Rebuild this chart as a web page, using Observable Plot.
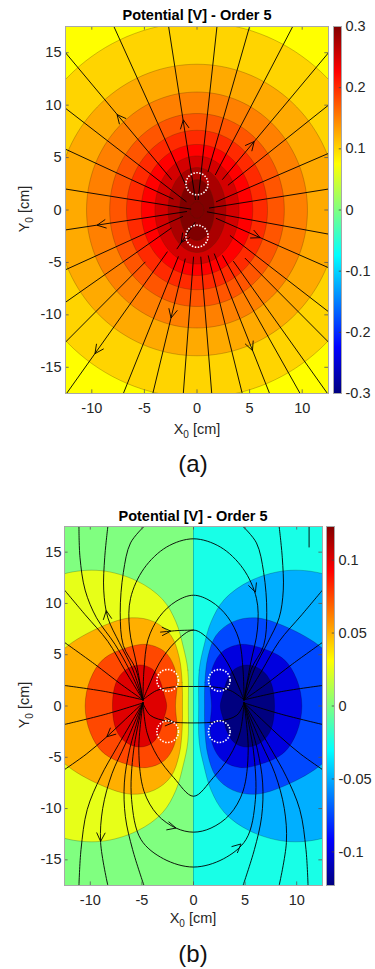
<!DOCTYPE html>
<html><head><meta charset="utf-8">
<script src="https://cdn.jsdelivr.net/npm/d3@7"></script>
<script src="https://cdn.jsdelivr.net/npm/@observablehq/plot@0.6"></script>
<style>
html,body{margin:0;padding:0;background:#fff;}
#root{position:relative;width:375px;height:969px;overflow:hidden;font-family:"Liberation Sans",Arial,sans-serif;}
#root svg{position:absolute;}
</style></head><body><div id="root"></div>
<script>
// ---------------- shared axes ----------------
const xDomain = [-12.5, 12.5];
const yDomain = [-17.5, 17.5];
const xTicks = [-10, -5, 0, 5, 10];
const yTicks = [-15, -10, -5, 0, 5, 10, 15];
const titleText = "Potential [V] - Order 5";

// ---------------- panel (a) data ----------------
const aColorDomain = [-0.3, 0.3];
const aColorTicks = [0.3, 0.2, 0.1, 0, -0.1, -0.2, -0.3];
const aBackground = 0.075;
const aLevels  = [0.1, 0.125, 0.15, 0.175, 0.2, 0.225, 0.25, 0.275, 0.3, 0.325];
const aRadiusX = [17.4, 13.4, 10.5, 8.3, 6.7, 5.3, 4.0, 2.75, 1.65, 0.65];
const aRadiusY = [17.9, 13.9, 11.25, 9.2, 7.6, 6.25, 5.15, 4.05, 2.9, 0.8];
const aElectrodes = [[0, 2.5], [0, -2.5]];
const aElectrodeRadius = 1.05;
const aLines = [
  [[1.18,0.19],[12.5,2.0]], [[1.84,0.79],[12.5,5.4]], [[2.97,2.38],[12.5,10.0]], [[2.43,2.92],[12.5,15.0]],
  [[1.75,3.37],[9.1,17.5]], [[1.05,3.65],[5.0,17.5]], [[0.11,0.99],[1.9,17.5]], [[-0.15,0.99],[-2.7,17.5]],
  [[-1.03,2.28],[-7.9,17.5]], [[-2.43,2.92],[-12.5,15.0]], [[-1.03,0.80],[-12.5,9.7]], [[-2.27,1.05],[-12.5,5.8]],
  [[-0.59,0.09],[-12.5,2.0]], [[-0.99,-0.15],[-12.5,-1.9]], [[-1.37,-0.62],[-12.5,-5.7]], [[-2.45,-1.73],[-12.5,-8.8]],
  [[-4.93,-4.97],[-12.5,-12.6]], [[-2.83,-4.0],[-12.4,-17.5]], [[-1.78,-4.46],[-7.0,-17.5]], [[-1.12,-4.67],[-4.2,-17.5]],
  [[-0.33,-4.49],[-1.3,-17.5]], [[0.36,-4.49],[1.4,-17.5]], [[1.07,-4.37],[4.3,-17.5]], [[1.65,-4.19],[6.9,-17.5]],
  [[2.44,-4.36],[9.8,-17.5]], [[3.47,-4.9],[12.4,-17.5]], [[4.58,-4.61],[12.5,-12.6]], [[3.16,-2.45],[12.5,-9.7]],
  [[1.83,-0.80],[12.5,-5.5]], [[0.98,-0.18],[12.5,-2.3]], [[-0.2,-1.2],[-1.9,-3.7]]
];
// arrow: [x, y, direction in degrees]
const aArrows = [[-7.6,9.1,130],[-1.3,8.6,99],[5.44,6.53,50],[-9.5,-1.45,189],[6.0,-2.64,336],
  [-2.47,-10.3,256.5],[-9.7,-13.7,235],[5.27,-13.4,291.5],[-1.5,-3.1,236]];

// ---------------- panel (b) data ----------------
const bColorDomain = [-0.123, 0.123];
const bColorTicks = [0.1, 0.05, 0, -0.05, -0.1];
const bBackgrounds = [{x1: -12.5, x2: 0, v: 0}, {x1: 0, x2: 12.5, v: -0.025}];
const bLevels = [0.025, 0.05, 0.075, 0.1];
const bPosFill = [0.025, 0.05, 0.075, 0.1];
const bNegFill = [-0.05, -0.075, -0.1, -0.125];
// upper-left quadrant outline of each positive contour (mirrored for the rest)
const bContourQuadrant = [
  [[-0.5,0],[-0.55,3.5],[-1.0,5.8],[-1.7,8.2],[-3.0,10.4],[-5.5,12.2],[-9.0,13.2],[-12.5,12.9],[-15.5,11.5],[-18,7],[-19,0]],
  [[-1.07,0],[-1.1,2.3],[-1.4,4.8],[-2.2,6.9],[-3.8,8.2],[-6.0,8.6],[-9.0,7.7],[-12.5,5.6],[-14,3.5],[-14.5,0]],
  [[-1.75,0],[-1.6,2.2],[-1.9,3.9],[-2.8,5.3],[-4.5,6.0],[-6.4,5.7],[-8.7,4.6],[-10.0,2.6],[-10.5,0]],
  [[-2.6,0],[-2.9,1.3],[-3.3,2.6],[-4.0,3.6],[-5.2,4.0],[-6.6,3.5],[-7.5,2.3],[-7.85,0]]
];
const bElectrodes = [[-2.5,2.5],[-2.5,-2.5],[2.5,2.5],[2.5,-2.5]];
const bElectrodeRadius = 1.05;
const bExitLinesLeft = [
  [[-4.9,0.6],[-8.5,1.4],[-12.5,2.0]],
  [[-4.9,0.6],[-7.0,2.1],[-9.6,4.1],[-12.5,6.2]],
  [[-4.9,0.6],[-6.6,3.4],[-8.3,6.3],[-10.5,8.9],[-12.5,11.3]],
  [[-4.9,0.6],[-6.2,3.5],[-7.6,6.0],[-9.4,8.6],[-10.5,11.3],[-11.0,14.5],[-11.1,17.5]],
  [[-4.9,0.6],[-5.9,3.6],[-7.2,6.2],[-8.3,8.6],[-8.7,11.3],[-8.6,14.5],[-8.3,17.5]],
  [[-4.9,0.6],[-5.6,3.6],[-6.8,5.9],[-7.1,9.1],[-6.8,13.0],[-6.1,15.9],[-4.8,17.5]],
  [[-4.9,0.3],[-8.5,-0.8],[-12.5,-1.8]],
  [[-4.9,0.3],[-6.6,-1.3],[-8.4,-3.0],[-10.4,-4.7],[-12.5,-6.2]],
  [[-4.9,0.3],[-7.4,-4.0],[-9.0,-6.9],[-10.3,-10.1],[-10.9,-14.0],[-11.1,-17.5]],
  [[-4.9,0.3],[-6.6,-3.7],[-7.9,-6.6],[-8.8,-10.0],[-9.0,-13.3],[-8.3,-17.5]],
  [[-4.9,0.3],[-6.2,-4.3],[-6.7,-7.5],[-6.6,-10.8],[-5.9,-14.0],[-4.8,-17.5]]
];
const bExitMirrored = [true, true, true, false, true, true, true, true, true, true, true];
const bArcsLeftHalf = [
  [[-4.9,0.6],[-5.5,4.0],[-6.2,7.5],[-6.1,10.5],[-4.8,13.4],[-2.6,15.5],[0,16.3]],
  [[-4.9,0.6],[-4.8,3.5],[-4.4,6.5],[-3.3,8.7],[-1.7,10.2],[0,10.8]],
  [[-4.9,0.6],[-4.4,1.8],[-3.3,4.2],[-1.8,6.2],[0,7.4]],
  [[-4.9,0.6],[-3.6,1.5],[-2.0,1.85],[0,1.9]],
  [[-4.9,0.3],[-4.2,-0.9],[-2.4,-1.5],[0,-1.65]],
  [[-4.9,0.3],[-4.5,-2.6],[-3.5,-4.9],[-1.9,-7.0],[0,-8.8]],
  [[-4.9,0.3],[-5.3,-4.3],[-4.8,-8.3],[-3.5,-10.6],[-1.7,-11.9],[0,-12.3]],
  [[-4.9,0.3],[-5.8,-4.3],[-6.0,-9.1],[-5.1,-13.0],[-2.9,-14.9],[0,-15.7]]
];
const bExtraLines = [
  [[-3.2,7.2],[-1.6,7.35],[0,7.4]],
  [[11.2,17.5],[11.2,15.5]]
];
const bArrows = [[-8.45,9.3,98],[6.0,11.1,-70],[-2.2,7.3,2],[-8.4,-3.0,222],[-9.0,-13.2,268],
  [-1.7,-11.9,-15],[4.6,-13.45,42],[-1.9,-1.58,-3]];

// ---------------- helpers ----------------
const jetStops = [[0,[0,0,0.5]],[0.125,[0,0,1]],[0.375,[0,1,1]],[0.625,[1,1,0]],[0.875,[1,0,0]],[1,[0.5,0,0]]];
function jet(t) {
  t = Math.max(0, Math.min(1, t));
  for (let i = 1; i < jetStops.length; i++) {
    const [t1, c1] = jetStops[i];
    if (t <= t1) {
      const [t0, c0] = jetStops[i - 1];
      const u = (t - t0) / (t1 - t0);
      const c = c0.map((v, k) => Math.round(255 * (v + (c1[k] - v) * u)));
      return `rgb(${c[0]},${c[1]},${c[2]})`;
    }
  }
  return "rgb(128,0,0)";
}
function ellipsePoints(rx, ry) {
  const pts = [];
  for (let i = 0; i < 144; i++) { const a = 2 * Math.PI * i / 144; pts.push([rx * Math.cos(a), ry * Math.sin(a)]); }
  return pts;
}
function arrowArms(arrows, L, phi) {
  const out = [];
  arrows.forEach(([x, y, a]) => {
    for (const s of [-1, 1]) {
      const t = (a + s * phi) * Math.PI / 180;
      out.push({x1: x, y1: y, x2: x - L * Math.cos(t), y2: y - L * Math.sin(t)});
    }
  });
  return out;
}
function tickMarks(len) {
  return [
    Plot.ruleX(xTicks, {x: d => d, y1: () => yDomain[0], y2: () => yDomain[0] + len, stroke: "#555", strokeWidth: 0.8}),
    Plot.ruleX(xTicks, {x: d => d, y1: () => yDomain[1], y2: () => yDomain[1] - len, stroke: "#555", strokeWidth: 0.8}),
    Plot.ruleY(yTicks, {y: d => d, x1: () => xDomain[0], x2: () => xDomain[0] + len, stroke: "#555", strokeWidth: 0.8}),
    Plot.ruleY(yTicks, {y: d => d, x1: () => xDomain[1], x2: () => xDomain[1] - len, stroke: "#555", strokeWidth: 0.8})
  ];
}
const baseStyle = {fontFamily: '"Liberation Sans", Arial, sans-serif', fontSize: "14.5px", color: "#262626", background: "transparent", overflow: "visible"};
const root = document.getElementById("root");

function place(svg, left, top) { svg.style.left = left + "px"; svg.style.top = top + "px"; root.appendChild(svg); }

function addLabels(svg, o) {
  const s = d3.select(svg);
  s.append("text").attr("x", o.titleX).attr("y", o.titleY).attr("text-anchor", "middle")
    .attr("font-weight", "bold").attr("font-size", "14.5px").attr("fill", "#000").text(titleText);
  const xl = s.append("text").attr("x", o.xLabX).attr("y", o.xLabY).attr("text-anchor", "middle")
    .attr("font-size", "14.5px").attr("fill", "#262626");
  xl.append("tspan").text("X");
  xl.append("tspan").attr("font-size", "10px").attr("dy", 4).text("0");
  xl.append("tspan").attr("dy", -4).text("\u00a0[cm]");
  const yl = s.append("text").attr("transform", `translate(${o.yLabX},${o.yLabY}) rotate(-90)`)
    .attr("text-anchor", "middle").attr("font-size", "14.5px").attr("fill", "#262626");
  yl.append("tspan").text("Y");
  yl.append("tspan").attr("font-size", "10px").attr("dy", 4).text("0");
  yl.append("tspan").attr("dy", -4).text("\u00a0[cm]");
  s.append("text").attr("x", o.tagX).attr("y", o.tagY).attr("text-anchor", "middle")
    .attr("font-size", "24px").attr("fill", "#111").text(o.tag);
}

function colorbar(id, domain, ticks, height, mt, mb) {
  const svg = Plot.plot({
    width: 48, height, marginTop: mt, marginBottom: mb, marginLeft: 0, marginRight: 40,
    style: baseStyle,
    x: {domain: [0, 1], axis: null},
    y: {domain, ticks, axis: "right", tickSize: 0, tickPadding: 4, tickFormat: d => String(d), label: null},
    marks: [
      Plot.rect([0], {x1: () => 0, x2: () => 1, y1: () => domain[0], y2: () => domain[1], fill: `url(#${id})`}),
      Plot.ruleY(ticks, {y: d => d, x1: () => 0.72, x2: () => 1, stroke: "#444", strokeWidth: 0.8}),
      Plot.frame({stroke: "#a8a8a8"})
    ]
  });
  const g = d3.select(svg).insert("defs", ":first-child").append("linearGradient")
    .attr("id", id).attr("x1", 0).attr("y1", 1).attr("x2", 0).attr("y2", 0);
  jetStops.forEach(([t, c]) => g.append("stop").attr("offset", t)
    .attr("stop-color", `rgb(${c.map(v => Math.round(v * 255)).join(",")})`));
  return svg;
}

// ---------------- panel (a) ----------------
{
  const H = 485, mt = 26, mb = 92, ml = 65, mr = 47;
  const rings = aLevels.flatMap((lv, i) => ellipsePoints(aRadiusX[i], aRadiusY[i]).map(([x, y]) => ({id: i, v: lv, x, y})));
  const lines = aLines.flatMap((pts, id) => pts.map(([x, y]) => ({id, x, y})));
  const svg = Plot.plot({
    width: 375, height: H, marginTop: mt, marginBottom: mb, marginLeft: ml, marginRight: mr,
    style: baseStyle,
    x: {domain: xDomain, ticks: xTicks, tickSize: 0, tickPadding: 9, tickFormat: d => String(d), label: null},
    y: {domain: yDomain, ticks: yTicks, tickSize: 0, tickPadding: 4, tickFormat: d => String(d), label: null},
    color: {type: "linear", domain: aColorDomain, interpolate: jet, clamp: true},
    r: {type: "linear", domain: [0, 1], range: [0, (375 - ml - mr) / 25]},
    marks: [
      Plot.rect([aBackground], {x1: () => xDomain[0], x2: () => xDomain[1], y1: () => yDomain[0], y2: () => yDomain[1], fill: d => d}),
      Plot.line(rings, {x: "x", y: "y", z: "id", fill: "v", stroke: "rgba(70,40,0,0.45)", strokeWidth: 0.6, curve: "linear-closed", clip: true}),
      Plot.line(lines, {x: "x", y: "y", z: "id", stroke: "#000", strokeWidth: 0.9, curve: "catmull-rom", clip: true}),
      Plot.link(arrowArms(aArrows, 0.95, 26), {x1: "x1", y1: "y1", x2: "x2", y2: "y2", stroke: "#000", strokeWidth: 0.9, clip: true}),
      Plot.dot(aElectrodes, {x: d => d[0], y: d => d[1], r: () => aElectrodeRadius, fill: "none", stroke: "#fff", strokeWidth: 1.6, strokeDasharray: "1.5,1.5"}),
      ...tickMarks(0.35),
      Plot.frame({stroke: "#a8a8a8"})
    ]
  });
  addLabels(svg, {titleX: 197, titleY: 20, xLabX: 197, xLabY: 434, yLabX: 29, yLabY: 209, tagX: 193, tagY: 472, tag: "(a)"});
  place(svg, 0, 0);
  place(colorbar("jetA", aColorDomain, aColorTicks, H, mt, mb), 333, 0);
}

// ---------------- panel (b) ----------------
{
  const top = 490, H = 479, mt = 36, mb = 84, ml = 64, mr = 53;
  const shapes = [];
  bContourQuadrant.forEach((q, i) => {
    const full = q.concat(q.slice(1, -1).reverse().map(([x, y]) => [x, -y]));
    full.forEach(([x, y]) => shapes.push({id: "p" + i, v: bPosFill[i], x, y}));
  });
  bContourQuadrant.forEach((q, i) => {
    const full = q.concat(q.slice(1, -1).reverse().map(([x, y]) => [x, -y]));
    full.forEach(([x, y]) => shapes.push({id: "n" + i, v: bNegFill[i], x: -x, y}));
  });
  const lines = [];
  let lid = 0;
  const pushLine = pts => { pts.forEach(([x, y]) => lines.push({id: lid, x, y})); lid++; };
  bExitLinesLeft.forEach((pts, i) => { pushLine(pts); if (bExitMirrored[i]) pushLine(pts.map(([x, y]) => [-x, y])); });
  bArcsLeftHalf.forEach(pts => pushLine(pts.concat(pts.slice(0, -1).reverse().map(([x, y]) => [-x, y]))));
  bExtraLines.forEach(pushLine);

  const svg = Plot.plot({
    width: 375, height: H, marginTop: mt, marginBottom: mb, marginLeft: ml, marginRight: mr,
    style: baseStyle,
    x: {domain: xDomain, ticks: xTicks, tickSize: 0, tickPadding: 9, tickFormat: d => String(d), label: null},
    y: {domain: yDomain, ticks: yTicks, tickSize: 0, tickPadding: 3, tickFormat: d => String(d), label: null},
    color: {type: "linear", domain: bColorDomain, interpolate: jet, clamp: true},
    r: {type: "linear", domain: [0, 1], range: [0, (375 - ml - mr) / 25]},
    marks: [
      Plot.rect(bBackgrounds, {x1: "x1", x2: "x2", y1: () => yDomain[0], y2: () => yDomain[1], fill: "v"}),
      Plot.line(shapes, {x: "x", y: "y", z: "id", fill: "v", stroke: "rgba(0,0,0,0.35)", strokeWidth: 0.6, curve: "catmull-rom-closed", clip: true}),
      Plot.ruleX([0], {stroke: "rgba(0,0,0,0.35)", strokeWidth: 0.7}),
      Plot.line(lines, {x: "x", y: "y", z: "id", stroke: "#000", strokeWidth: 0.9, curve: "catmull-rom", clip: true}),
      Plot.link(arrowArms(bArrows, 0.95, 26), {x1: "x1", y1: "y1", x2: "x2", y2: "y2", stroke: "#000", strokeWidth: 0.9, clip: true}),
      Plot.dot(bElectrodes, {x: d => d[0], y: d => d[1], r: () => bElectrodeRadius, fill: "none", stroke: "#fff", strokeWidth: 1.6, strokeDasharray: "1.5,1.5"}),
      ...tickMarks(0.35),
      Plot.frame({stroke: "#a8a8a8"})
    ]
  });
  addLabels(svg, {titleX: 193, titleY: 31, xLabX: 193, xLabY: 433, yLabX: 29, yLabY: 215, tagX: 193, tagY: 472, tag: "(b)"});
  place(svg, 0, top);
  place(colorbar("jetB", bColorDomain, bColorTicks, H, mt, mb), 326, top);
}
</script></body></html>
